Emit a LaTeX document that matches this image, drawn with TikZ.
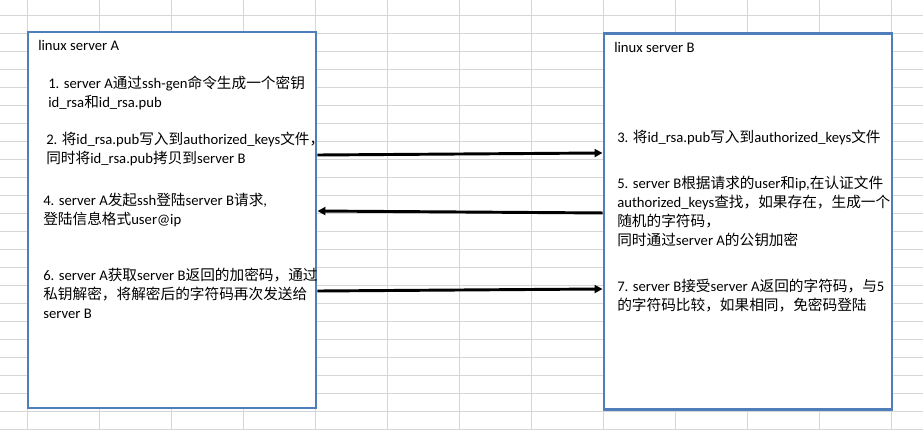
\documentclass[tikz,border=0pt]{standalone}
\usepackage{fontspec}
\usepackage{xcolor}
\usetikzlibrary{arrows.meta}
\setmainfont{Carlito}
\newfontfamily\zhfont{Noto Sans CJK SC}
\newcommand\enfont{\rmfamily}
\definecolor{Frame}{HTML}{4F7EBB}
\definecolor{Cell}{HTML}{D6D6D6}
% Chinese runs switch to the CJK font by themselves
\XeTeXinterchartokenstate=1
\newXeTeXintercharclass\zhclass
\count255="4E00
\loop
  \XeTeXcharclass\count255=\zhclass
  \ifnum\count255<"9FFF \advance\count255 by 1
\repeat
\XeTeXcharclass"FF0C=\zhclass
\XeTeXinterchartoks 0 \zhclass={\zhfont}
\XeTeXinterchartoks 4095 \zhclass={\zhfont}
\XeTeXinterchartoks \zhclass 0={\enfont}
\XeTeXinterchartoks \zhclass 4095={\enfont}

\begin{document}
\begin{tikzpicture}[
  x=0.75pt, y=-0.75pt,
  server/.style={draw=Frame, line width=2.2pt, fill=white, minimum width=216pt, minimum height=282pt},
  hdr/.style={anchor=base west, inner sep=0pt, font=\fontsize{11}{14.25}\selectfont},
  note/.style={anchor=north west, inner sep=0pt, align=left, font=\fontsize{11}{14.25}\selectfont},
  arrow/.style={-{Triangle[length=6pt,width=6pt]}, line width=2.2pt, draw=black},
  cell/.style={draw=Cell, line width=0.75pt}
]
  \useasboundingbox[fill=white] (0,0) rectangle (923,430);
  % sheet grid
  \foreach \gx in {27,99,...,891} \draw[cell] (\gx,0) -- (\gx,430);
  \foreach \gy in {15,33,...,429} \draw[cell] (0,\gy) -- (923,\gy);

  \node[server] (srvA) at (172,220) {};
  \node[server] (srvB) at (748,221.5) {};

  \node[hdr] (hdrA) at (38,50) {linux server A};
  \node[note] (keygen) at (48,76) {1. server A通过ssh-gen命令生成一个密钥\\id\_rsa和id\_rsa.pub};
  \node[note] (copykey) at (46,132) {2. 将id\_rsa.pub写入到authorized\_keys文件，\\同时将id\_rsa.pub拷贝到server B};
  \node[note] (login) at (43,193) {4. server A发起ssh登陆server B请求,\\登陆信息格式user@ip};
  \node[note] (decrypt) at (43,268) {6. server A获取server B返回的加密码，通过\\私钥解密，将解密后的字符码再次发送给\\server B};

  \node[hdr] (hdrB) at (614,52) {linux server B};
  \node[note] (store) at (617,130) {3. 将id\_rsa.pub写入到authorized\_keys文件};
  \node[note] (lookup) at (617,176) {5. server B根据请求的user和ip,在认证文件\\authorized\_keys查找，如果存在，生成一个\\随机的字符码，\\同时通过server A的公钥加密};
  \node[note] (verify) at (617,279) {7. server B接受server A返回的字符码，与5\\的字符码比较，如果相同，免密码登陆};

  \draw[arrow] ([yshift=48.75pt]srvA.east) -- ([yshift=51.4pt]srvB.west);
  \draw[arrow] ([yshift=6.4pt]srvB.west) -- ([yshift=6.75pt]srvA.east);
  \draw[arrow] ([yshift=-53.25pt]srvA.east) -- ([yshift=-50.6pt]srvB.west);
\end{tikzpicture}
\end{document}
